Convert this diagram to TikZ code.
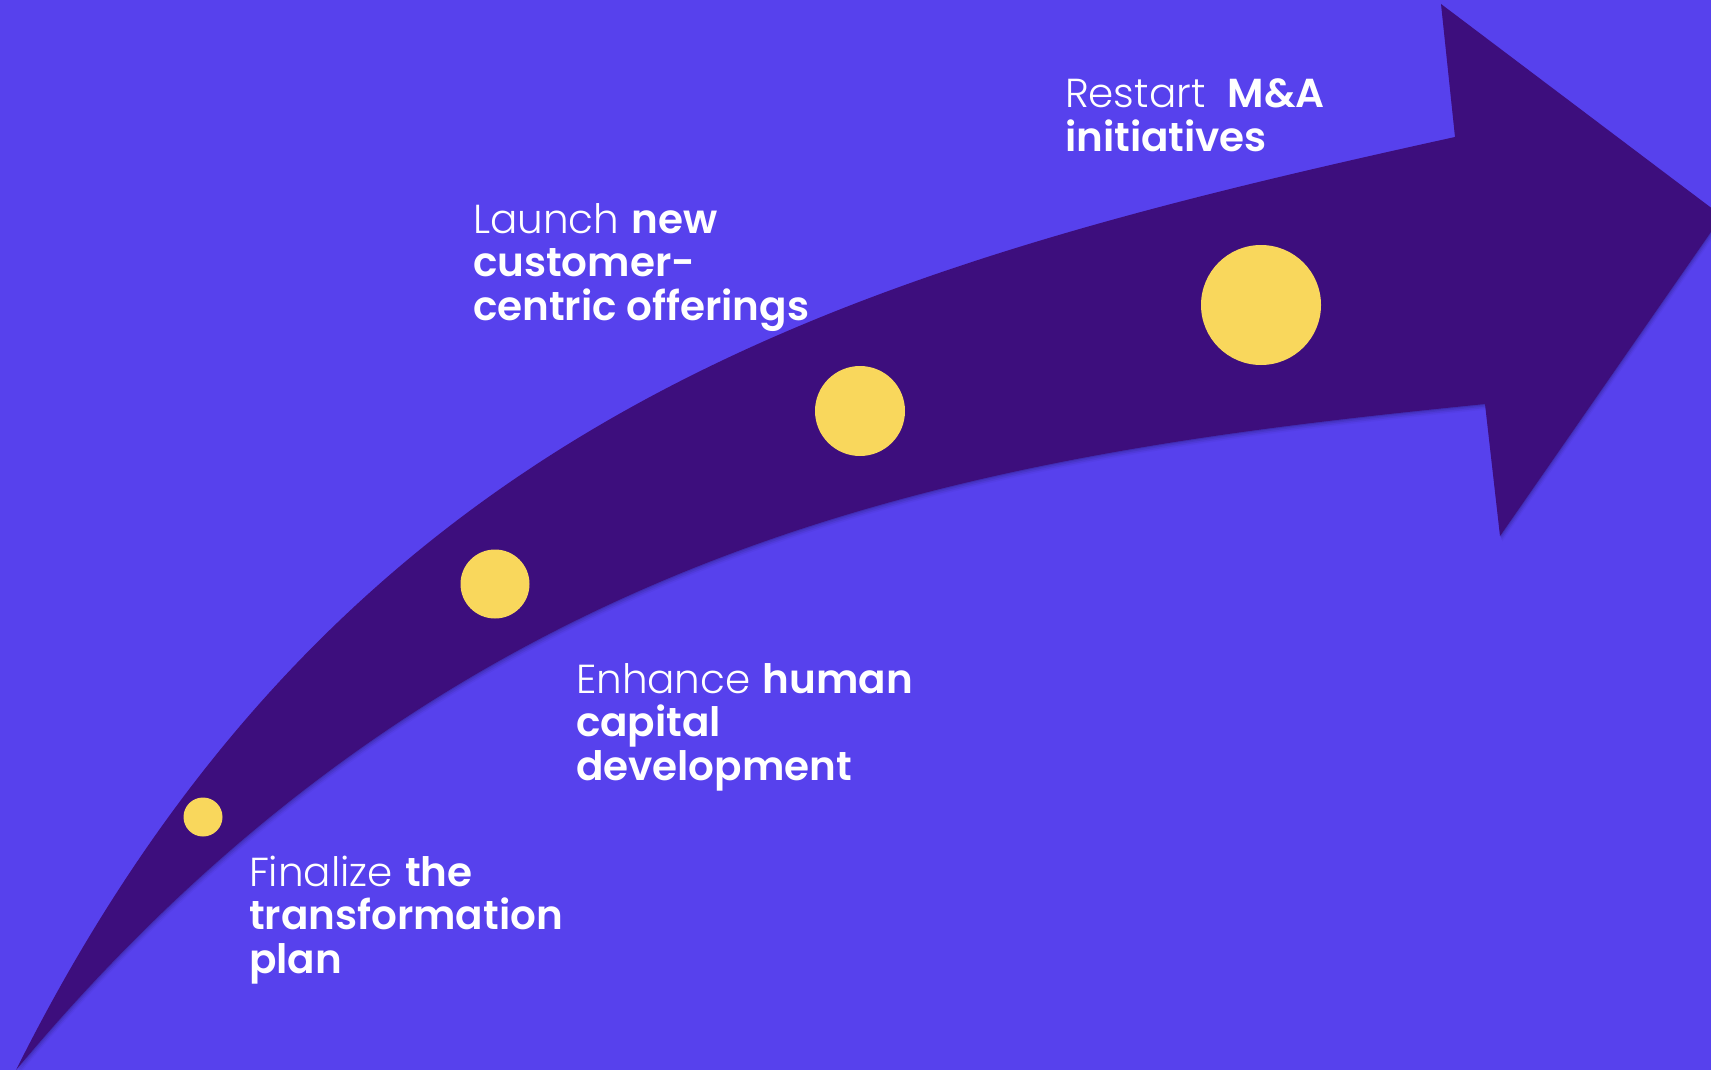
\documentclass[tikz,border=0pt]{standalone}
\usepackage{fontspec}
\newfontfamily\lightfont{Poppins Light}
\newfontfamily\heavyfont{Poppins SemiBold}
\definecolor{bgviolet}{RGB}{87,65,237}
\definecolor{banddark}{RGB}{61,14,125}
\definecolor{dotyellow}{RGB}{249,215,92}
\definecolor{shadowink}{RGB}{20,8,60}

% outline of the curved arrow, in pixel-like units
\def\bandpath{
  (16,1070) .. controls (346,410) and (855,269) .. (1455,137)
  -- (1441,4) -- (1722,216) -- (1500,536) -- (1485,404)
  .. controls (985,454) and (466,530) .. (16,1070)
  -- cycle}

\newcommand{\lbl}[1]{\vtop{\fontsize{40.5}{43.5}\selectfont #1}}

\begin{document}
\begin{tikzpicture}[x=1pt, y=-1pt,
  dot/.style={circle, fill=dotyellow, inner sep=0pt},
  caption/.style={anchor=base west, inner sep=0pt, outer sep=0pt, text=white}]
  \path[use as bounding box] (0,0) rectangle (1711,1070);
  \clip (0,0) rectangle (1711,1070);
  \fill[bgviolet] (0,0) rectangle (1711,1070);

  % soft drop shadow under the arrow
  \foreach \d/\o in {1/0.14, 2.5/0.10, 4/0.07, 5.5/0.04} {
    \fill[shadowink, opacity=\o, shift={(0.4*\d,\d)}] \bandpath;
  }
  \fill[banddark] \bandpath;

  % milestones along the arrow
  \node[dot, minimum size=39pt] (m1) at (203,817) {};
  \node[dot, minimum size=69pt] (m2) at (495,584) {};
  \node[dot, minimum size=90pt] (m3) at (860,411) {};
  \node[dot, minimum size=120pt] (m4) at (1261,305) {};

  % captions
  \node[caption] (t1) at (249,886) {\lbl{\hbox{{\lightfont Finalize} {\heavyfont the}}\hbox{\heavyfont transformation}\hbox{\heavyfont plan}}};
  \node[caption] (t2) at (576,693) {\lbl{\hbox{{\lightfont Enhance} {\heavyfont human}}\hbox{\heavyfont capital}\hbox{\heavyfont development}}};
  \node[caption] (t3) at (473,233) {\lbl{\hbox{{\lightfont Launch} {\heavyfont new}}\hbox{\heavyfont customer-}\hbox{\heavyfont centric offerings}}};
  \node[caption] (t4) at (1065,108) {\lbl{\hbox{{\lightfont Restart}\hspace{0.55em}{\heavyfont M\&A}}\hbox{\heavyfont initiatives}}};
\end{tikzpicture}
\end{document}
